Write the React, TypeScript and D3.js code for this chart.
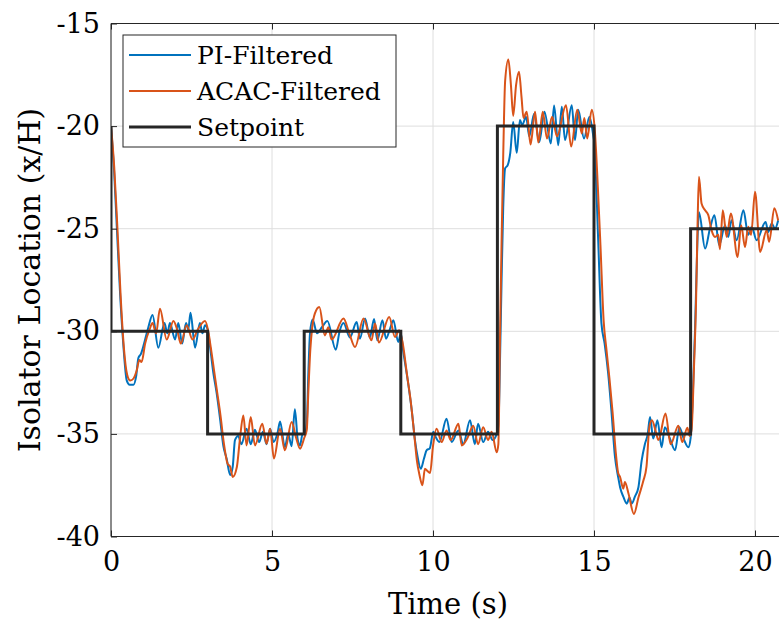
import { useEffect, useRef } from 'react';
import * as d3 from 'd3';

// readings [time s, location x/H]
const piFiltered: [number, number][] = [
  [0, -20.0], [0.1, -22.3], [0.18, -24.9], [0.28, -28.1], [0.38, -30.6], [0.49, -32.4], [0.58, -32.6], [0.7, -32.6],
  [0.78, -32.2], [0.85, -31.3], [0.93, -31.1], [1.06, -30.4], [1.16, -29.8], [1.29, -29.2], [1.47, -30.8], [1.66, -29.6],
  [1.75, -30.1], [1.83, -29.6], [1.99, -30.4], [2.09, -29.6], [2.21, -30.6], [2.33, -29.6], [2.4, -29.9], [2.47, -29.1],
  [2.61, -30.8], [2.76, -29.6], [2.84, -30.1], [2.92, -29.7], [3.0, -29.9],
  [3.08, -30.8], [3.18, -32.05], [3.28, -33.0], [3.39, -34.3], [3.49, -35.6], [3.59, -36.2], [3.7, -37.0], [3.78, -36.6],
  [3.85, -35.3], [3.95, -35.1], [4.05, -35.5], [4.21, -34.75], [4.34, -35.5], [4.47, -34.8], [4.6, -35.4], [4.72, -34.9],
  [4.83, -35.5], [4.94, -34.75], [5.05, -35.4], [5.18, -34.9], [5.25, -34.4], [5.4, -35.65], [5.5, -35.0], [5.61, -35.6],
  [5.71, -33.8], [5.8, -35.3], [5.87, -35.56], [5.95, -35.0], [6.02, -35.0],
  [6.08, -34.5], [6.13, -32.0], [6.18, -30.1], [6.26, -29.43], [6.4, -30.1], [6.55, -29.8], [6.72, -29.5], [6.98, -30.9],
  [7.1, -30.0], [7.22, -29.6], [7.42, -30.3], [7.63, -29.55], [7.73, -30.36], [7.89, -29.38], [8.04, -30.3], [8.17, -29.4],
  [8.27, -30.44], [8.43, -29.46], [8.54, -30.36], [8.66, -29.9], [8.77, -29.46], [8.92, -30.52], [9.0, -30.1],
  [9.07, -30.9], [9.23, -32.55], [9.34, -33.85], [9.44, -35.3], [9.52, -36.1], [9.62, -36.7], [9.72, -36.2], [9.8, -35.8],
  [9.9, -35.7], [10.01, -34.9], [10.1, -35.2], [10.2, -35.4], [10.42, -34.26], [10.58, -35.4], [10.79, -34.83],
  [10.94, -35.5], [11.15, -34.34], [11.3, -35.5], [11.4, -34.5], [11.56, -35.4], [11.71, -34.9], [11.85, -35.3],
  [11.98, -35.0], [12.03, -34.6],
  [12.08, -31.5], [12.13, -27.5], [12.18, -24.0], [12.24, -22.06], [12.32, -21.9], [12.4, -21.3], [12.49, -19.8],
  [12.6, -21.3], [12.7, -19.7], [12.77, -19.95], [12.89, -19.55], [12.99, -20.5], [13.14, -19.4], [13.3, -20.77],
  [13.46, -19.3], [13.66, -20.85], [13.76, -19.0], [13.89, -20.93], [14.0, -19.06], [14.1, -20.68], [14.31, -18.98],
  [14.41, -20.68], [14.51, -19.2], [14.69, -20.6], [14.86, -19.55], [14.98, -20.5],
  [15.01, -20.8], [15.13, -25.56], [15.23, -29.6], [15.33, -30.6], [15.44, -32.05], [15.54, -33.85], [15.65, -36.1],
  [15.75, -37.1], [15.81, -37.6], [15.91, -38.06], [16.02, -38.4], [16.1, -38.1], [16.17, -38.4], [16.27, -38.06],
  [16.38, -37.6], [16.48, -36.3], [16.58, -35.5], [16.67, -35.0], [16.74, -34.18], [16.84, -35.23], [16.97, -34.34],
  [17.1, -35.65], [17.2, -34.67], [17.35, -35.2], [17.52, -35.8], [17.65, -34.67], [17.8, -35.3], [17.93, -35.65],
  [18.0, -35.2],
  [18.06, -33.5], [18.14, -29.8], [18.21, -25.7], [18.26, -24.2], [18.45, -25.97], [18.6, -25.0], [18.74, -24.34],
  [18.89, -25.8], [19.07, -24.83], [19.17, -25.4], [19.27, -24.59], [19.43, -25.56], [19.64, -24.1], [19.79, -25.3],
  [19.9, -24.9], [20.05, -25.56], [20.33, -24.67], [20.41, -25.16], [20.52, -24.75], [20.62, -25.0], [20.72, -24.59],
];

const acacFiltered: [number, number][] = [
  [0, -20.0], [0.1, -22.0], [0.2, -25.0], [0.3, -28.3], [0.4, -30.8], [0.5, -32.1], [0.6, -32.4], [0.7, -32.3],
  [0.8, -31.9], [0.88, -31.4], [0.95, -31.5], [1.06, -30.6], [1.2, -29.9], [1.29, -29.6], [1.4, -30.1], [1.52, -28.9],
  [1.73, -30.4], [1.94, -29.5], [2.05, -29.9], [2.17, -30.6], [2.35, -29.7], [2.53, -30.4], [2.7, -29.9], [2.92, -29.5],
  [3.02, -30.0],
  [3.1, -30.8], [3.2, -31.9], [3.3, -33.0], [3.4, -34.1], [3.5, -35.4], [3.62, -36.45], [3.7, -36.6], [3.78, -37.1],
  [3.91, -36.6], [4.0, -35.3], [4.11, -34.1], [4.21, -35.56], [4.34, -34.18], [4.47, -35.56], [4.7, -34.5],
  [4.83, -35.48], [4.94, -34.75], [5.06, -36.2], [5.25, -34.75], [5.4, -35.8], [5.61, -34.42], [5.75, -35.2],
  [5.87, -35.72], [6.0, -35.2],
  [6.08, -34.8], [6.13, -32.9], [6.19, -30.9], [6.25, -29.8], [6.33, -29.14], [6.47, -28.81], [6.64, -30.2],
  [6.75, -29.8], [6.85, -30.4], [7.22, -29.38], [7.4, -30.1], [7.58, -30.77], [7.84, -29.38], [8.09, -30.44],
  [8.2, -29.62], [8.32, -30.55], [8.64, -29.3], [8.82, -30.28], [8.95, -29.95],
  [9.05, -30.5], [9.2, -32.2], [9.3, -33.3], [9.41, -34.9], [9.5, -36.3], [9.58, -37.0], [9.67, -37.5], [9.75, -36.7],
  [9.82, -36.8], [9.91, -36.9], [10.0, -35.6], [10.11, -34.75], [10.27, -35.4], [10.42, -34.83], [10.55, -35.3],
  [10.79, -34.5], [10.89, -35.56], [11.07, -35.2], [11.25, -34.6], [11.4, -35.5], [11.56, -34.67], [11.71, -35.3],
  [11.82, -34.9], [11.98, -35.9], [12.03, -35.5],
  [12.08, -30.4], [12.13, -25.6], [12.18, -21.5], [12.24, -17.8], [12.34, -16.75], [12.42, -18.0], [12.49, -19.5],
  [12.58, -18.0], [12.67, -17.35], [12.75, -18.6], [12.81, -19.6], [12.91, -19.3], [13.03, -20.9], [13.17, -19.3],
  [13.27, -20.8], [13.41, -19.3], [13.54, -20.6], [13.7, -19.55], [13.85, -20.5], [14.13, -18.98], [14.29, -21.0],
  [14.48, -19.2], [14.62, -20.36], [14.7, -19.6], [14.79, -20.6], [14.93, -19.2], [15.03, -20.3],
  [15.12, -23.0], [15.2, -25.8], [15.3, -29.5], [15.38, -30.8], [15.48, -32.3], [15.58, -34.0], [15.67, -35.8],
  [15.75, -36.9], [15.81, -37.1], [15.91, -37.67], [15.96, -37.35], [16.07, -37.9], [16.24, -38.9], [16.38, -38.1],
  [16.53, -37.3], [16.63, -36.6], [16.72, -34.67], [16.8, -34.34], [16.92, -34.9], [17.0, -35.3], [17.22, -34.0],
  [17.38, -35.5], [17.62, -34.6], [17.74, -35.4], [17.9, -34.7], [17.97, -35.1], [18.03, -34.8],
  [18.1, -32.0], [18.17, -28.5], [18.22, -24.5], [18.26, -22.47], [18.34, -23.77], [18.45, -24.1], [18.55, -24.34],
  [18.65, -25.07], [18.76, -25.4], [18.86, -25.3], [18.91, -26.0], [19.0, -24.1], [19.12, -25.4], [19.25, -24.26],
  [19.46, -26.38], [19.57, -24.83], [19.69, -25.9], [19.79, -24.9], [19.88, -25.3], [20.0, -23.2], [20.16, -26.13],
  [20.36, -25.07], [20.44, -25.64], [20.6, -24.0], [20.72, -24.6],
];

const setpoint: [number, number][] = [
  [0, -20], [0, -30], [3, -35], [6, -30], [9, -35], [12, -20], [15, -35], [18, -25], [21, -25],
];

const xTicks = [0, 5, 10, 15, 20];
const yTicks = [-40, -35, -30, -25, -20, -15];
const legendItems = [
  { label: 'PI-Filtered', color: '#0072BD', width: 2 },
  { label: 'ACAC-Filtered', color: '#D95319', width: 2 },
  { label: 'Setpoint', color: '#262626', width: 3 },
];

const W = 779;
const H = 628;
const FONT = '"DejaVu Serif", "Liberation Serif", serif';

export default function App() {
  const svgRef = useRef<SVGSVGElement>(null);

  useEffect(() => {
    if (!svgRef.current) return;
    const svg = d3.select(svgRef.current);
    svg.selectAll('*').remove();

    const left = 111, top = 23.5, bottom = 536.5;
    const x = d3.scaleLinear().domain([0, 21]).range([left, left + 21 * 32.2]);
    const y = d3.scaleLinear().domain([-40, -15]).range([bottom, top]);
    const right = x(21);

    svg.append('defs').append('clipPath').attr('id', 'plotclip')
      .append('rect').attr('x', left).attr('y', top).attr('width', right - left).attr('height', bottom - top);

    // grid
    const grid = svg.append('g');
    grid.selectAll('line.gx').data(xTicks).enter().append('line')
      .attr('x1', d => x(d)).attr('x2', d => x(d)).attr('y1', top).attr('y2', bottom)
      .attr('stroke', '#dedede').attr('stroke-width', 1);
    grid.selectAll('line.gy').data(yTicks).enter().append('line')
      .attr('x1', left).attr('x2', right).attr('y1', d => y(d)).attr('y2', d => y(d))
      .attr('stroke', '#dedede').attr('stroke-width', 1);

    const plot = svg.append('g').attr('clip-path', 'url(#plotclip)');
    const line = d3.line<[number, number]>().x(d => x(d[0])).y(d => y(d[1])).curve(d3.curveMonotoneX);

    plot.append('path').datum(piFiltered).attr('d', line)
      .attr('fill', 'none').attr('stroke', legendItems[0].color).attr('stroke-width', 2);
    plot.append('path').datum(acacFiltered).attr('d', line)
      .attr('fill', 'none').attr('stroke', legendItems[1].color).attr('stroke-width', 2);

    const step = d3.line<[number, number]>().x(d => x(d[0])).y(d => y(d[1])).curve(d3.curveStepAfter);
    plot.append('path').datum(setpoint).attr('d', step)
      .attr('fill', 'none').attr('stroke', legendItems[2].color).attr('stroke-width', 3);

    // axes box
    const axisColor = '#262626';
    svg.append('line').attr('x1', left).attr('x2', right).attr('y1', top).attr('y2', top)
      .attr('stroke', axisColor).attr('stroke-width', 1);
    svg.append('line').attr('x1', left).attr('x2', right).attr('y1', bottom).attr('y2', bottom)
      .attr('stroke', axisColor).attr('stroke-width', 1);
    svg.append('line').attr('x1', left).attr('x2', left).attr('y1', top).attr('y2', bottom)
      .attr('stroke', axisColor).attr('stroke-width', 1);

    const xAxis = d3.axisBottom(x).tickValues(xTicks).tickSize(-6).tickPadding(15).tickFormat(d3.format('d'));
    const gx = svg.append('g').attr('transform', `translate(0,${bottom})`).call(xAxis);
    gx.select('.domain').remove();
    gx.selectAll('line').attr('stroke', axisColor);
    gx.selectAll('text').attr('font-family', FONT).attr('font-size', 27).attr('fill', '#000');

    const gxTop = svg.append('g').attr('transform', `translate(0,${top})`)
      .call(d3.axisTop(x).tickValues(xTicks).tickSize(-6).tickFormat(() => ''));
    gxTop.select('.domain').remove();
    gxTop.selectAll('line').attr('stroke', axisColor);

    const yAxis = d3.axisLeft(y).tickValues(yTicks).tickSize(-6).tickPadding(11).tickFormat(d => `${d}`.replace('−', '-'));
    const gy = svg.append('g').attr('transform', `translate(${left},0)`).call(yAxis);
    gy.select('.domain').remove();
    gy.selectAll('line').attr('stroke', axisColor);
    gy.selectAll('text').attr('font-family', FONT).attr('font-size', 27).attr('fill', '#000');

    svg.append('text').attr('x', 448).attr('y', 614).attr('text-anchor', 'middle')
      .attr('font-family', FONT).attr('font-size', 29).attr('fill', '#000').text('Time (s)');
    svg.append('text').attr('transform', `translate(40,${(top + bottom) / 2}) rotate(-90)`)
      .attr('text-anchor', 'middle').attr('font-family', FONT).attr('font-size', 30).attr('fill', '#000')
      .text('Isolator Location (x/H)');

    // legend
    const lg = svg.append('g');
    lg.append('rect').attr('x', 123).attr('y', 35).attr('width', 273).attr('height', 112)
      .attr('fill', '#fff').attr('stroke', axisColor).attr('stroke-width', 1);
    legendItems.forEach((item, i) => {
      const ly = 55 + i * 36;
      lg.append('line').attr('x1', 129).attr('x2', 191).attr('y1', ly).attr('y2', ly)
        .attr('stroke', item.color).attr('stroke-width', item.width);
      lg.append('text').attr('x', 197).attr('y', ly + 9).attr('font-family', FONT).attr('font-size', 25)
        .attr('fill', '#000').text(item.label);
    });
  }, []);

  return (
    <svg ref={svgRef} width={W} height={H} style={{ position: 'absolute', left: 0, top: 0, background: '#fff' }} />
  );
}
